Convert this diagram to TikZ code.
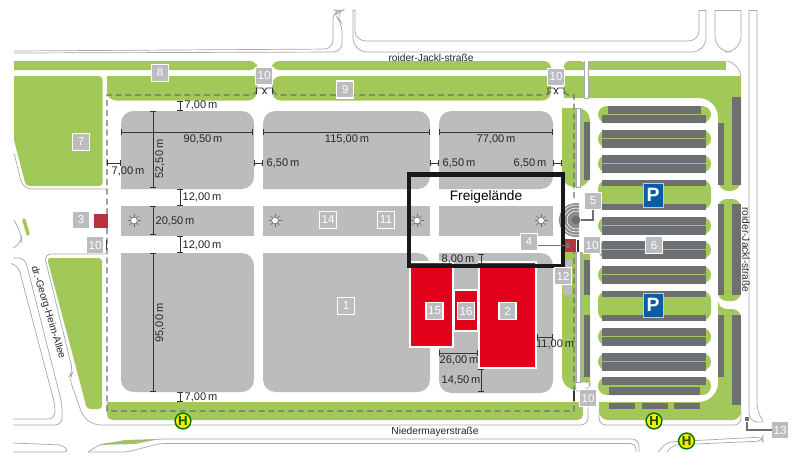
\documentclass[tikz,border=0pt]{standalone}
\usepackage{xcolor}
\usepackage{fontspec}
\setmainfont{Liberation Sans}
\usetikzlibrary{arrows.meta}

\definecolor{lawngreen}{HTML}{A2C85A}
\definecolor{fieldgrey}{HTML}{BBBCBE}
\definecolor{stallgrey}{HTML}{6E6F71}
\definecolor{roadgrey}{HTML}{A8A8A8}
\definecolor{hallred}{HTML}{E2001A}
\definecolor{signblue}{HTML}{0A5CA6}
\definecolor{kioskred}{HTML}{B8323F}

\tikzset{
	roadline/.style={draw=roadgrey, line width=0.4pt},
	fence/.style={draw=stallgrey, line width=0.6pt, dash pattern=on 3.4pt off 2.2pt},
	gatebar/.style={draw=black!80, line width=0.9pt},
	measure/.style={draw=black!80, line width=0.5pt, {Bar[width=3pt]}-{Bar[width=3pt]}},
	measuretext/.style={font=\fontsize{6.3}{7}\selectfont, text=black!85, inner sep=0pt},
	streettext/.style={font=\fontsize{5.8}{7}\selectfont, text=black!85, inner sep=0pt},
	framednum/.style={draw=white, line width=1pt, fill=fieldgrey, text=white, minimum size=15.5pt*0.62, inner sep=0pt, font=\fontsize{6.6}{7}\selectfont},
	plainnum/.style={fill=fieldgrey, text=white, minimum size=9pt, inner sep=0pt, font=\fontsize{6.6}{7}\selectfont},
	hallred block/.style={fill=hallred, draw=white, line width=0.7pt},
	busstop/.style={circle, draw=green!45!black, line width=0.8pt, fill=yellow!90!orange, text=green!35!black, minimum size=9pt, inner sep=0pt, font=\bfseries\fontsize{7.5}{7}\selectfont},
	parksign/.style={fill=signblue, draw=white!70!signblue, line width=0.3pt, text=white, minimum width=11.3pt, minimum height=13.6pt, inner sep=0pt, font=\bfseries\fontsize{11}{11}\selectfont},
}

\begin{document}
\begin{tikzpicture}[x=0.02cm, y=-0.02cm]
	\useasboundingbox (0,0) rectangle (800,467);
	\fill[white] (0,0) rectangle (800,467);

	% Lawns along the north road
	\fill[lawngreen] (14,61) [rounded corners=4pt] -- (257,61) -- (257,70) [sharp corners] -- (14,70) -- cycle;
	\fill[lawngreen] (551,70) [rounded corners=4pt] -- (551,61) -- (272,61) -- (272,70) [sharp corners] -- cycle;
	\fill[lawngreen] (107,76) -- (257,76) [rounded corners=5pt] -- (257,100.5) -- (107,100.5) [sharp corners] -- cycle;
	\fill[lawngreen] (551,76) [rounded corners=5pt] -- (551,100.5) -- (272,100.5) -- (272,76) [sharp corners] -- cycle;
	\fill[lawngreen] (564,70) [rounded corners=3pt] -- (564,61) -- (586,61) [sharp corners] -- (586,70) -- cycle;
	\fill[lawngreen] (588,61) -- (726,61) -- (726,70) -- (588,70) -- cycle;
	\draw[roadline] (727,61) .. controls (735,63) and (740,69) .. (741,76);

	% Lawns around the car park
	\fill[lawngreen] (564,76) -- (741,76) [rounded corners=6pt] -- (741,191) -- (718,191) [rounded corners=11pt] -- (718,98) [sharp corners] -- (564,98) -- cycle;
	\fill[lawngreen, rounded corners=5pt] (718,199) rectangle (741,301);
	\fill[lawngreen] (718,309) [rounded corners=5pt] -- (718,309) -- (741,309) -- (741,420) -- (599,420) [sharp corners] -- (599,402) [rounded corners=11pt] -- (718,402) [sharp corners] -- cycle;
	\fill[white] (584.5,61) rectangle (588,98);
	\draw[roadline] (584.5,61) -- (584.5,98) -- (588,98) -- (588,61);

	% Lawns in the west
	\fill[lawngreen] (14,76) [rounded corners=2pt] -- (102.5,76) -- (102.5,186) -- (26,186) [sharp corners] -- (14,140) -- cycle;
	\fill[lawngreen, rounded corners=2pt] (47,258) -- (102,258) -- (102,409) -- (87,409) -- cycle;
	\draw[lawngreen, line width=2pt, line cap=round] (24,220) -- (28,234);
	\fill[lawngreen] (98,445) -- (125,440) -- (160,439) -- (135,444) -- cycle;

	% Lawn along the south road
	\fill[lawngreen] (107,402) -- (583,402) [rounded corners=3pt] -- (583,420) -- (107,420) [sharp corners] -- cycle;
	\fill[lawngreen] (562,108) [rounded corners=7pt] -- (590,108) -- (590,187) -- (562,187) -- (562,108) [sharp corners] -- cycle;
	\fill[lawngreen] (562,252) -- (590,252) -- (590,382) -- (576,382) -- (576,390) [rounded corners=8pt] -- (562,390) [sharp corners] -- cycle;
	\fill[white] (576,108) rectangle (580,187);
	\draw[roadline] (576,108) rectangle (580,187);
	\fill[white] (576,252) rectangle (580,382);
	\draw[roadline] (576,252) -- (576,382) -- (580,382) -- (580,252);
	\draw[roadline, rounded corners=2pt] (580,382) -- (590,382) -- (590,387) -- (582,391) -- (576,391);

	% Road edges, north
	\draw[roadline, rounded corners=5pt] (14,51) -- (333,49) -- (333,10) -- (342,10.5) -- (335,15) -- (342,23) -- (342,52) -- (14,53);
	\draw[roadline, rounded corners=8pt] (353,10) -- (353,52) -- (706,52) -- (706,10);
	\draw[roadline, rounded corners=6pt] (355,10) -- (355,41) -- (699,41) -- (699,10);
	\draw[roadline] (353,10) -- (355,10) (699,10) -- (706,10) (715,10) -- (741,10);
	\draw[roadline, rounded corners=9pt] (715,10) -- (715,52) -- (741,52) -- (741,10);
	\draw[roadline] (749,10) -- (757,10);
	\draw[roadline, rounded corners=5pt] (749,10) -- (749,422) -- (763,422);
	\draw[roadline, rounded corners=5pt] (757,10) -- (757,412) -- (763,421);

	% Road edges, west and south
	\draw[roadline, rounded corners=5pt] (14,153) -- (23,189) -- (107,189);
	\draw[roadline, rounded corners=4pt] (14,220) -- (22,236) -- (21,243) -- (13,248);
	\draw[roadline, rounded corners=4pt] (13,258) -- (25,258) -- (62,404) -- (62,425) -- (13,425);
	\draw[roadline, rounded corners=4pt] (13,264) -- (18,265) -- (55,405) -- (55,419) -- (13,419);
	\draw[roadline, rounded corners=4pt] (107,254) -- (44,254) -- (73,372) -- (69,377) -- (83,417) -- (94,425) -- (588,425) -- (588,389);
	\draw[roadline, rounded corners=4pt] (599,412) -- (599,425) -- (741,425) -- (741,412);
	\draw[roadline, rounded corners=3pt] (13,443) -- (63,445) -- (69,452) -- (13,452);
	\draw[roadline, rounded corners=4pt] (88,452) -- (100,444) -- (160,439) -- (639,439) -- (639,452);
	\draw[roadline, rounded corners=3pt] (88,452) -- (127,452) -- (160,443.5) -- (636,443.5) -- (636,452);
	\draw[roadline, rounded corners=3pt] (658,452) -- (667,442) -- (763,437) -- (763,441) -- (673,445) -- (667,452);

	% Parking islands with their stalls
	\foreach \ytop in {130, 155, 217, 241, 266, 328, 353} {
		\fill[lawngreen, rounded corners=5pt] (598,\ytop) rectangle (711,\ytop+17.5);
		\fill[stallgrey] (602,\ytop) rectangle (706,\ytop+8);
		\fill[stallgrey] (602,\ytop+9) rectangle (706,\ytop+17.5);
	}
	\foreach \ytop in {180, 291} {
		\fill[lawngreen, rounded corners=5pt] (598,\ytop) rectangle (711,\ytop+29.5);
		\fill[stallgrey] (602,\ytop) rectangle (706,\ytop+6);
		\fill[stallgrey] (602,\ytop+23.5) rectangle (706,\ytop+29.5);
	}
	\fill[lawngreen, rounded corners=5pt] (598,106) rectangle (711,123);
	\fill[stallgrey] (608,106) rectangle (701,113.5);
	\fill[stallgrey] (602,115) rectangle (706,123);
	\fill[lawngreen, rounded corners=5pt] (598,377) rectangle (711,395);
	\fill[stallgrey] (602,377) rectangle (706,385);
	\fill[stallgrey] (609,387) rectangle (700,395);
	\foreach \xa/\xb in {609/635, 642/668, 674/700} {
		\fill[stallgrey] (\xa,403) rectangle (\xb,409);
	}

	% Stalls running north to south
	\fill[stallgrey] (732,97) rectangle (741,185);
	\fill[stallgrey] (718,123) rectangle (724,185);
	\fill[stallgrey] (718,204) rectangle (724,295);
	\fill[stallgrey] (732,204) rectangle (741,295);
	\fill[stallgrey] (718,315) rectangle (724,377);
	\fill[stallgrey] (732,315) rectangle (741,405);
	\fill[stallgrey] (584,122) rectangle (590,180);
	\fill[stallgrey] (584,260) rectangle (590,295);
	\fill[stallgrey] (584,315) rectangle (590,377);
	\fill[fieldgrey] (563,260) rectangle (572,295);

	% Exhibition fields
	\fill[fieldgrey] (121,189) [rounded corners=7pt] -- (121,111) -- (254,111) -- (254,189) [sharp corners] -- cycle;
	\fill[fieldgrey] (263,189) [rounded corners=7pt] -- (263,111) -- (430,111) -- (430,189) [sharp corners] -- cycle;
	\fill[fieldgrey] (439,189) [rounded corners=7pt] -- (439,111) -- (553,111) -- (553,189) [sharp corners] -- cycle;
	\fill[fieldgrey] (121,206) rectangle (254,235.5);
	\fill[fieldgrey] (263,206) rectangle (430,235.5);
	\fill[fieldgrey] (439,206) rectangle (553,235.5);
	\fill[fieldgrey] (121,253) [rounded corners=7pt] -- (121,392) -- (254,392) -- (254,253) [sharp corners] -- cycle;
	\fill[fieldgrey] (263,253) [rounded corners=7pt] -- (263,392) -- (430,392) -- (430,253) [sharp corners] -- cycle;
	\fill[fieldgrey] (439,253) [rounded corners=7pt] -- (439,393) -- (553,393) -- (553,253) [sharp corners] -- cycle;

	% Halls
	\path[hallred block] (410,262) rectangle (453,347);
	\path[hallred block] (454,290) rectangle (478,331);
	\path[hallred block] (479,262) rectangle (536,368);
	\fill[white] (453,262) rectangle (454,347);
	\fill[white] (478,262) rectangle (479,368);

	% Fence
	\draw[fence] (257,90) .. controls (255,95) and (252,95) .. (250,95) -- (107,95) -- (107,411) -- (574,411) -- (574,240);
	\draw[fence] (273,90) .. controls (275,95) and (278,95) .. (280,95) -- (544,95) .. controls (548,95) and (550,93) .. (551,90);
	\draw[fence] (564,92) -- (568,95) -- (574,95) -- (574,200);

	% Gates
	\foreach \xgate in {264.5, 556} {
		\draw[black!80, line width=0.5pt] (\xgate-8,94) -- (\xgate-8,88) -- (\xgate-2,88) -- (\xgate+2,94) (\xgate+8,94) -- (\xgate+8,88) -- (\xgate+2,88) -- (\xgate-2,94);
	}
	\draw[gatebar] (106.5,240) -- (106.5,250);
	\draw[gatebar] (578,240) -- (578,252);
	\draw[gatebar] (574,391) -- (574,401);

	% Kiosks and stage
	\fill[kioskred] (94,214) rectangle (108,228);
	\fill[kioskred] (565,239) rectangle (576,252);
	\node[fill=stallgrey, minimum size=2.5pt, inner sep=0pt] (kiosk) at (568,245.5) {};
	\begin{scope}
		\clip (556,200) rectangle (579,240);
		\fill[fieldgrey!75!black] (576,220) circle (17);
		\foreach \rad in {15,12,9} {
			\draw[white, line width=0.35pt] (576,220) circle (\rad);
		}
	\end{scope}
	\node[circle, fill=stallgrey, minimum size=5pt, inner sep=0pt] (stage) at (576,220) {};
	\node[fill=stallgrey, minimum size=2.5pt, inner sep=0pt] (box) at (747,419) {};

	% Floodlights
	\foreach \xsun in {134, 275, 417, 541} {
		\foreach \ang in {0,45,...,315} {
			\draw[stallgrey, line width=0.35pt] (\xsun,220.5) ++(\ang:3.5) -- ++(\ang:3);
		}
		\draw[stallgrey, line width=0.35pt, fill=white] (\xsun,220.5) circle (3.4);
	}

	% Measures
	\draw[measure] (180,101) -- (180,111);
	\draw[measure] (121,132) -- (253,132);
	\draw[measure] (153,111) -- (153,188);
	\draw[measure] (263,132) -- (430,132);
	\draw[measure] (439,132) -- (553,132);
	\draw[measure] (107,163) -- (121,163);
	\draw[measure] (254,163) -- (263,163);
	\draw[measure] (430,163) -- (439,163);
	\draw[measure] (553,163) -- (562,163);
	\draw[measure] (180,189) -- (180,206);
	\draw[measure] (153,206) -- (153,235);
	\draw[measure] (180,236) -- (180,253);
	\draw[measure] (153,253) -- (153,392);
	\draw[measure] (180,392) -- (180,402);
	\draw[measure] (481,254) -- (481,264);
	\draw[measure] (537,337) -- (553,337);
	\draw[measure] (439,353) -- (478,353);
	\draw[measure] (481,369) -- (481,392);

	% Measure labels
	\node[measuretext] (top7) at (201,105.5) {7,00\,m};
	\node[measuretext] (width90) at (203,139) {90,50\,m};
	\node[measuretext, rotate=90] (depth52) at (160,159) {52,50\,m};
	\node[measuretext] (width115) at (347,139) {115,00\,m};
	\node[measuretext] (width77) at (496,139) {77,00\,m};
	\node[measuretext] (west7) at (128,171) {7,00\,m};
	\node[measuretext] (gap65a) at (283,163.5) {6,50\,m};
	\node[measuretext] (gap65b) at (459,163.5) {6,50\,m};
	\node[measuretext] (gap65c) at (530,163.5) {6,50\,m};
	\node[measuretext] (lane12a) at (202,197.5) {12,00\,m};
	\node[measuretext] (depth20) at (175,221) {20,50\,m};
	\node[measuretext] (lane12b) at (202,245) {12,00\,m};
	\node[measuretext, rotate=90] (depth95) at (160,323) {95,00\,m};
	\node[measuretext] (south7) at (201,397) {7,00\,m};
	\node[measuretext] (hall8) at (458,259) {8,00\,m};
	\node[measuretext] (hall11) at (555,344) {11,00\,m};
	\node[measuretext] (hall26) at (459,360) {26,00\,m};
	\node[measuretext] (hall14) at (461,380) {14,50\,m};

	% Street names
	\node[streettext] (north) at (431,57.5) {roider-Jackl-straße};
	\node[streettext, rotate=-90] (east) at (746,250) {roider-Jackl-straße};
	\node[streettext] (south) at (435,432) {Niedermayerstraße};
	\node[streettext, rotate=-73] (west) at (48,312.5) {dr.-Georg-Heim-Allee};

	% Black frame
	\draw[black!90, line width=2.3pt] (409,174.5) rectangle (563,266);
	\node[inner sep=0pt, font=\fontsize{7.8}{9}\selectfont] (open) at (486,197) {Freigelände};

	% Signs
	\node[parksign] (p1) at (653,195) {P};
	\node[parksign] (p2) at (653,305) {P};
	\node[busstop] (h1) at (183,421) {H};
	\node[busstop] (h2) at (654,421) {H};
	\node[busstop] (h3) at (686.5,441) {H};

	% Numbers
	\node[framednum] (n8) at (160,73) {8};
	\node[framednum] (n10a) at (264,76) {10};
	\node[framednum] (n9) at (345,89.5) {9};
	\node[framednum] (n10b) at (556,77) {10};
	\node[framednum] (n7) at (81,142) {7};
	\node[framednum] (n14) at (328,220) {14};
	\node[framednum] (n11) at (386,220) {11};
	\node[framednum] (n1) at (346,306) {1};
	\node[framednum] (n15) at (434.5,311) {15};
	\node[framednum] (n16) at (466,311) {16};
	\node[framednum] (n2) at (507.5,311) {2};
	\node[framednum] (n5) at (593,201) {5};
	\node[framednum] (n4) at (529,242) {4};
	\node[framednum] (n10c) at (592,245) {10};
	\node[framednum] (n6) at (654,245) {6};
	\node[framednum] (n12) at (563,276) {12};
	\node[framednum] (n10d) at (588,398) {10};
	\node[plainnum] (n3) at (81,220) {3};
	\node[plainnum] (n10e) at (95,245) {10};
	\node[plainnum] (n13) at (780,430) {13};

	% Leaders
	\draw[stallgrey, line width=0.6pt] (n4.east |- kiosk) -- (kiosk);
	\draw[stallgrey, line width=0.6pt] (n5) |- (stage);
	\draw[stallgrey, line width=0.6pt] (n13) -| (box);
\end{tikzpicture}
\end{document}
